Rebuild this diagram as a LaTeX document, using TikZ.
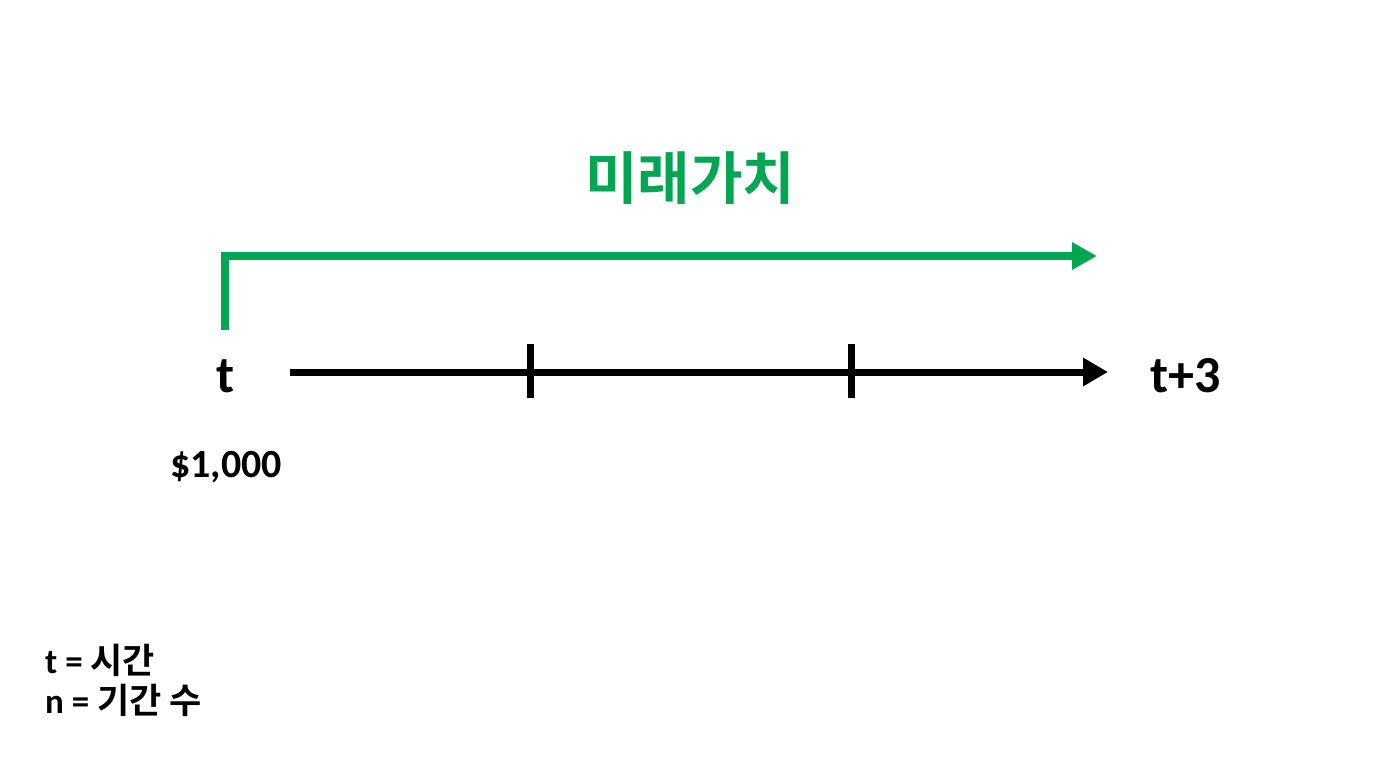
\documentclass[tikz,border=0pt]{standalone}
\usepackage{fontspec}
\setmainfont{Carlito}
\newfontfamily\kr{Noto Sans CJK KR}[BoldFont={Noto Sans CJK KR Bold}]
\usetikzlibrary{arrows.meta}
\definecolor{fvgreen}{RGB}{0,166,81}
\tikzset{
  lbl/.style={inner sep=0pt, font=\bfseries\fontsize{52}{52}\selectfont},
  leg/.style={inner sep=0pt, anchor=base west, font=\bfseries\fontsize{35}{35}\selectfont},
  axisline/.style={line width=7pt, -{Triangle[length=25pt,width=27pt]}},
  fvline/.style={fvgreen, line width=8pt, -{Triangle[length=25pt,width=26pt]}},
  tickmark/.style={line width=7pt},
}
\begin{document}
\begin{tikzpicture}[x=1pt,y=-1pt]
\path[use as bounding box, fill=white] (0,0) rectangle (1376,768);
% title
\node[inner sep=0pt, text=fvgreen, font=\kr\bfseries\fontsize{57}{57}\selectfont] (title) at (690,178) {미래가치};
% green arrow
\coordinate (gs) at (225,330);
\coordinate (gc) at (225,256);
\coordinate (ge) at (1097,256);
\draw[fvline] (gs) -- (gc) -- (ge);
% axis
\coordinate (as) at (290,372);
\coordinate (ae) at (1108,372);
\draw[axisline] (as) -- (ae);
\coordinate (t1a) at (530,344); \coordinate (t1b) at (530,398);
\coordinate (t2a) at (851,344); \coordinate (t2b) at (851,398);
\draw[tickmark] (t1a) -- (t1b);
\draw[tickmark] (t2a) -- (t2b);
% labels
\node[lbl, anchor=base] (t0) at (226,392) {t};
\node[lbl, anchor=base] (t3) at (1186,392) {t+3};
\node[inner sep=0pt, anchor=base, font=\bfseries\fontsize{40}{40}\selectfont] (pv) at (226,477) {\$1,000};
% legend
\node[leg] (leg1) at (45,673) {t = {\kr 시간}};
\node[leg] (leg2) at (45,713) {n = {\kr 기간 수}};
\end{tikzpicture}
\end{document}
